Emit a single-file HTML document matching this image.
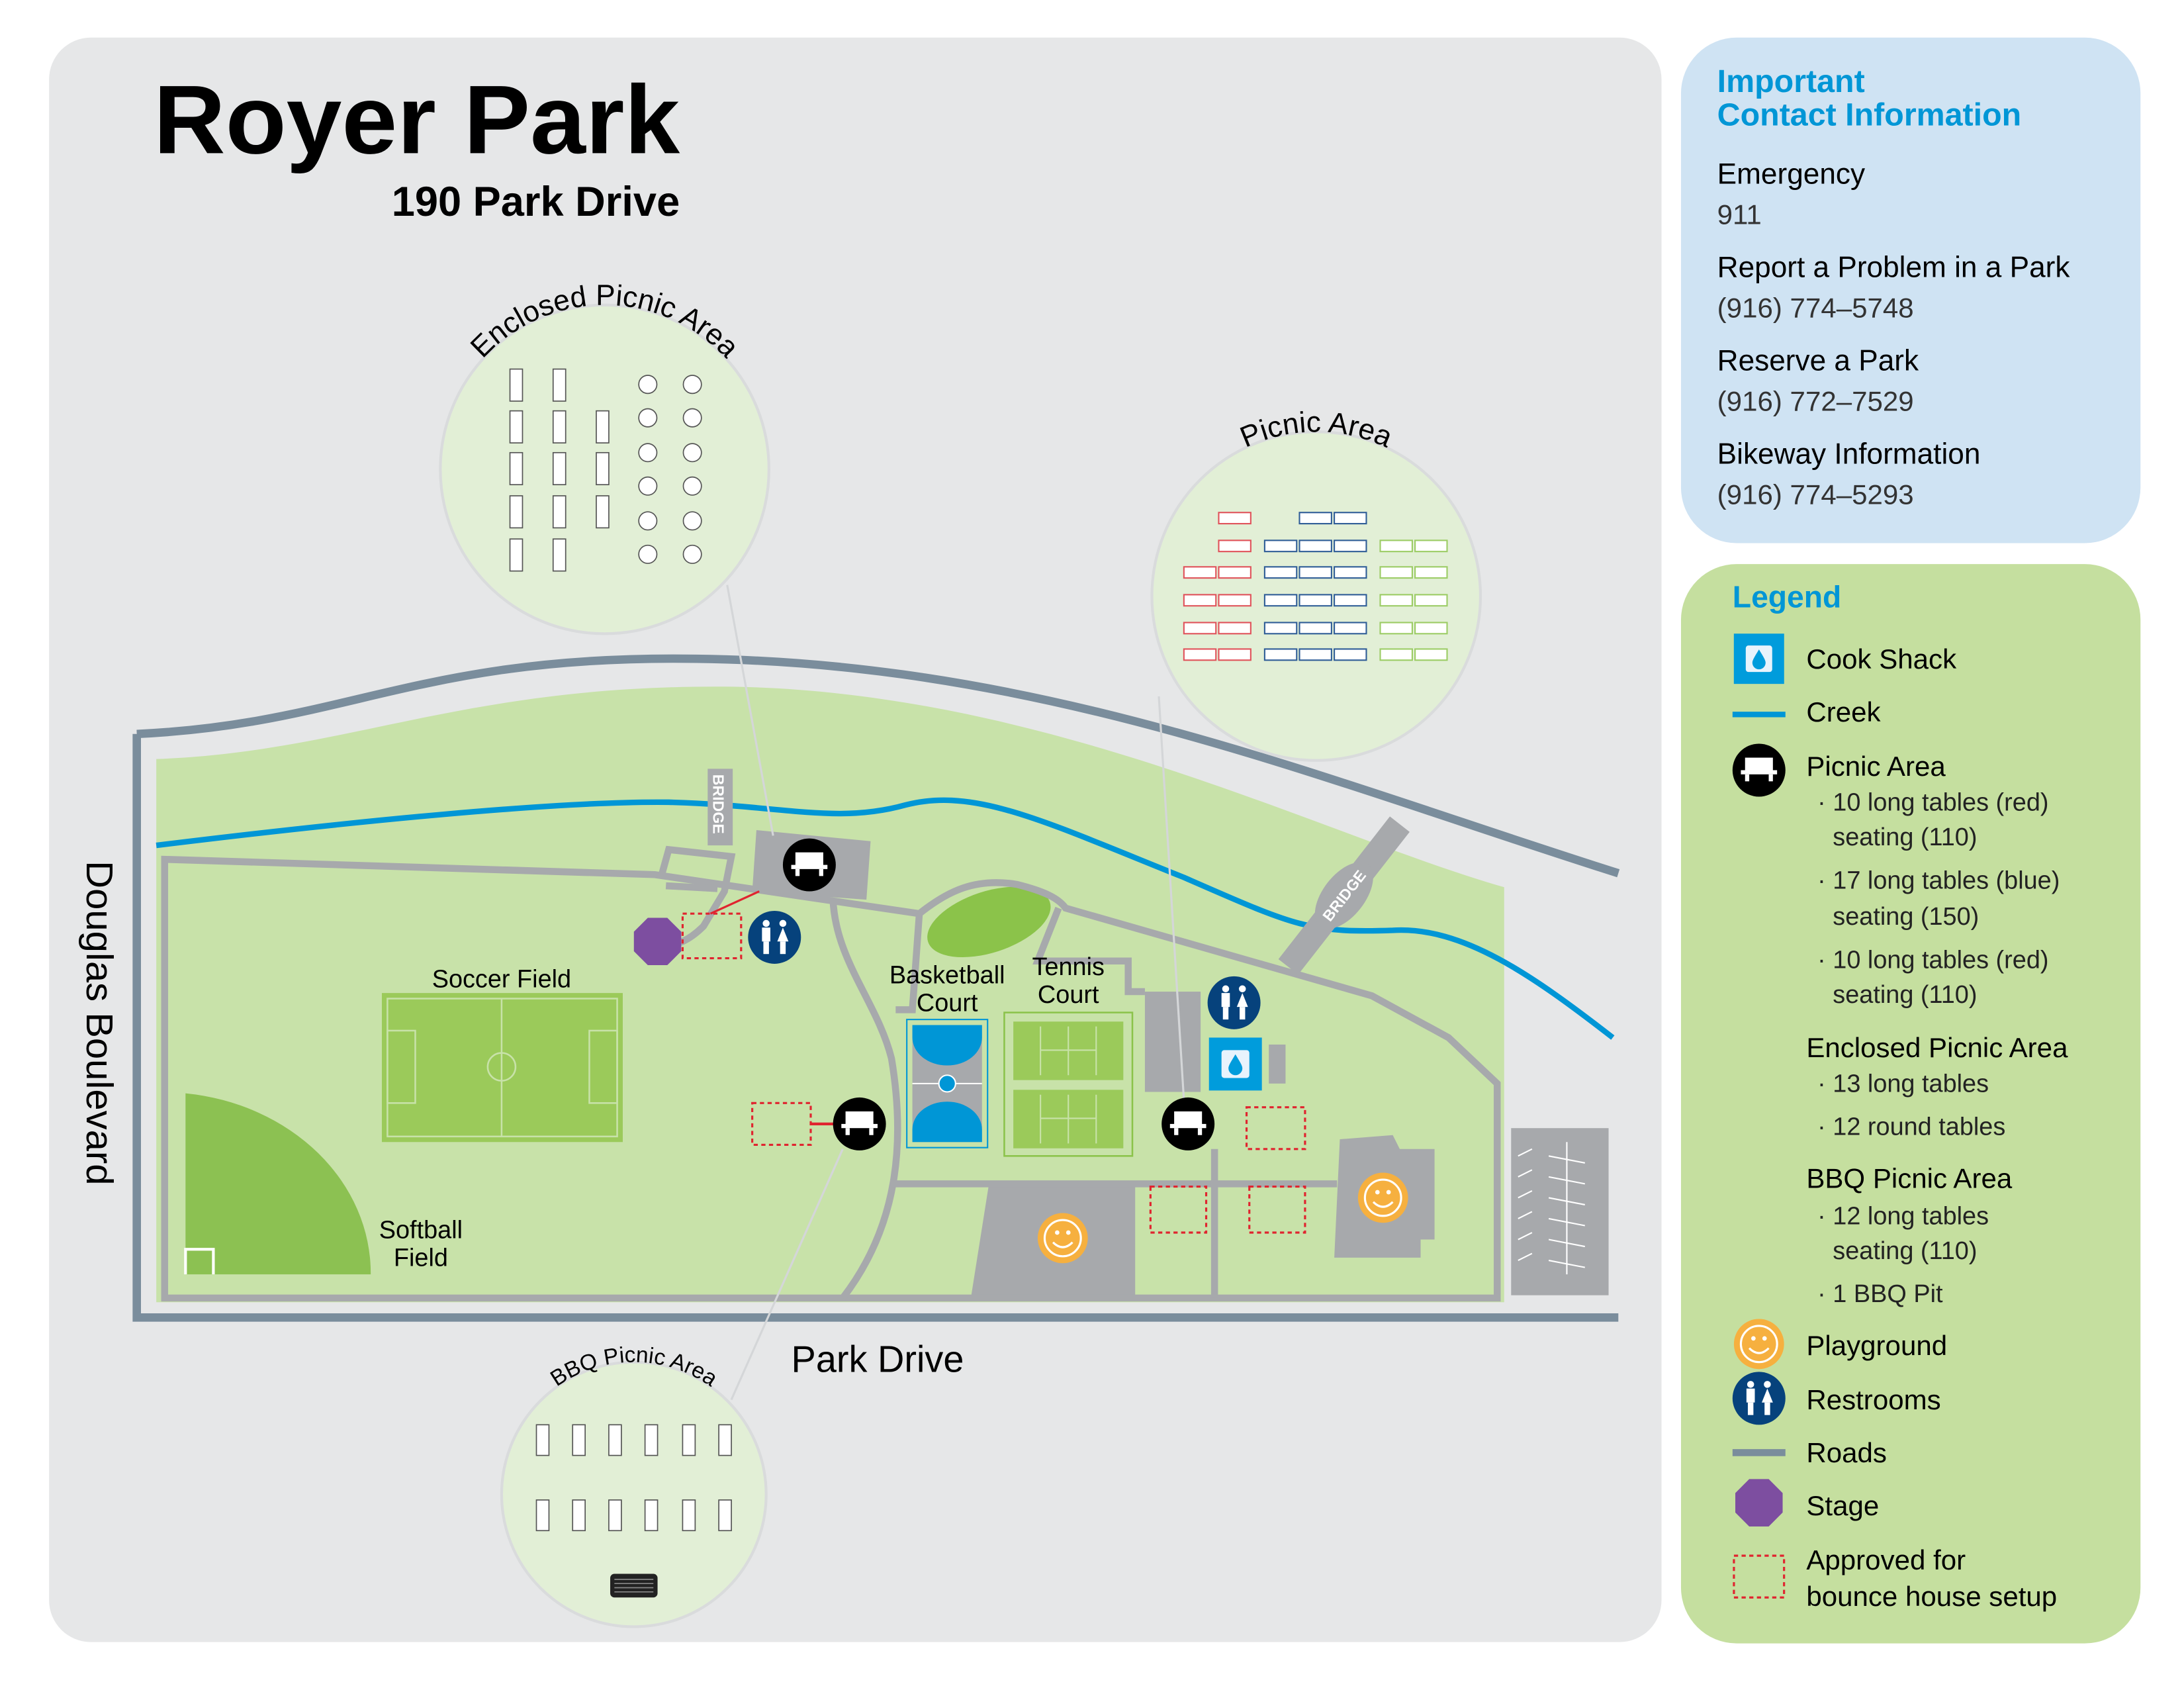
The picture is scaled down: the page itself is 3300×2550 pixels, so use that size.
<!DOCTYPE html>
<html><head><meta charset="utf-8"><style>
html,body{margin:0;padding:0;background:#fff}
svg{display:block}
text{font-family:"Liberation Sans",sans-serif}
</style></head><body>
<svg width="3300" height="2550" viewBox="0 0 1568 1212" xmlns="http://www.w3.org/2000/svg">
<defs>
<g id="pic"><circle r="19" fill="#000"/><rect x="-10" y="-9" width="20" height="10" fill="#fff"/><rect x="-13" y="0" width="26" height="3" fill="#fff"/><rect x="-10" y="3" width="3" height="5" fill="#fff"/><rect x="7" y="3" width="3" height="5" fill="#fff"/></g>
<g id="rest"><circle r="19" fill="#06427c"/><circle cx="-6" cy="-10" r="2.5" fill="#fff"/><rect x="-9" y="-7" width="6" height="10" fill="#fff"/><rect x="-8" y="3" width="4" height="9" fill="#fff"/><circle cx="6" cy="-10" r="2.5" fill="#fff"/><polygon points="6,-7 10,3 2,3" fill="#fff"/><rect x="4" y="3" width="4" height="9" fill="#fff"/></g>
<g id="play"><circle r="18" fill="#f6b03f"/><circle r="13" fill="none" stroke="#fff" stroke-width="1.5"/><circle cx="-4" cy="-4" r="1.6" fill="#fff"/><circle cx="4" cy="-4" r="1.6" fill="#fff"/><path d="M-7,3 Q0,10 7,3" fill="none" stroke="#fff" stroke-width="1.5"/></g>
<g id="cook"><rect x="-19" y="-19" width="38" height="38" fill="#009cdc"/><rect x="-10" y="-10" width="20" height="20" rx="2" fill="#e8f3fc"/><path d="M0,-7 C3,-2 5,1 5,3 A5,5 0 0 1 -5,3 C-5,1 -3,-2 0,-7Z" fill="#009cdc"/></g>
<g id="stage"><polygon points="-7,-17 7,-17 17,-7 17,7 7,17 -7,17 -17,7 -17,-7" fill="#7d4ea0"/></g>
</defs>
<rect width="1568" height="1212" fill="#fff"/>
<rect x="35" y="27" width="1158" height="1152" rx="30" fill="#e6e7e8"/>
<!-- park green -->
<path d="M112,935 L112,545 C250,540 330,492 520,493 C750,495 950,600 1080,637 L1080,935 Z" fill="#c8e2a9"/>
<!-- outer roads -->
<path d="M98,527 C250,520 300,470 500,473 C750,476 950,560 1162,627" fill="none" stroke="#7a8d9c" stroke-width="6"/>
<path d="M98,527 L98,946 L1162,946" fill="none" stroke="#7a8d9c" stroke-width="6"/>
<!-- creek -->
<path d="M112,607 C250,590 400,575 480,576 C560,578 600,592 650,578 C700,565 750,590 850,630 C930,665 940,670 1000,668 C1050,665 1100,700 1158,745" fill="none" stroke="#0096d6" stroke-width="4"/>
<!-- soccer -->
<rect x="274" y="713" width="173" height="107" fill="#9bca5a"/>
<g fill="none" stroke="#c8e2a9" stroke-width="1.2"><rect x="278" y="717" width="165" height="99"/><line x1="360" y1="717" x2="360" y2="816"/><circle cx="360" cy="766" r="10"/><rect x="278" y="740" width="20" height="52"/><rect x="423" y="740" width="20" height="52"/></g>
<!-- softball -->
<path d="M133,915 L133,785 A150,130 0 0 1 266,915 Z" fill="#8cc152"/>
<path d="M133,915 L133,897 L153,897 L153,915" fill="none" stroke="#fff" stroke-width="2"/>
<!-- green oval -->
<ellipse cx="710" cy="662" rx="46" ry="22" transform="rotate(-18 710 662)" fill="#8bc34a"/>
<!-- grey lots -->
<polygon points="710,850 815,850 815,932 697,932" fill="#a7a9ac"/>
<polygon points="962,818 1000,815 1005,825 1030,825 1030,890 1020,890 1020,903 958,903" fill="#a7a9ac"/>
<rect x="1085" y="810" width="70" height="120" fill="#a7a9ac"/>
<g stroke="#fff" stroke-width="1">
<line x1="1090" y1="830" x2="1100" y2="825"/><line x1="1090" y1="845" x2="1100" y2="840"/><line x1="1090" y1="860" x2="1100" y2="855"/><line x1="1090" y1="875" x2="1100" y2="870"/><line x1="1090" y1="890" x2="1100" y2="885"/><line x1="1090" y1="905" x2="1100" y2="900"/>
<line x1="1125" y1="820" x2="1125" y2="915"/><line x1="1112" y1="830" x2="1138" y2="835"/><line x1="1112" y1="845" x2="1138" y2="850"/><line x1="1112" y1="860" x2="1138" y2="865"/><line x1="1112" y1="875" x2="1138" y2="880"/><line x1="1112" y1="890" x2="1138" y2="895"/><line x1="1112" y1="905" x2="1138" y2="910"/></g>
<!-- paths -->
<g fill="none" stroke="#a7a9ac" stroke-width="5">
<path d="M118,932 L118,617 L470,628 L660,656 C680,640 700,630 730,635 C750,640 760,645 765,652 L985,715 L1040,745 L1075,778 L1075,932 Z"/>
<path d="M598,646 C600,690 630,720 640,760 C650,820 645,880 605,932"/>
<path d="M640,850 L960,850"/>
<path d="M872,825 L872,932"/>
<path d="M643,725 L655,725 L660,656"/>
<path d="M760,652 L745,690 L810,690 L810,712 L822,712"/>
<path d="M475,628 L480,610 L525,615 L520,640 L505,665 C495,675 485,680 470,680"/>
<path d="M478,636 L515,638"/>
</g>
<!-- enclosed pad -->
<polygon points="543,596 625,604 622,646 540,640" fill="#a7a9ac"/>
<rect x="508" y="552" width="18" height="55" fill="#a7a9ac"/>
<text transform="translate(512,556) rotate(90)" font-size="11" fill="#fff" font-weight="bold">BRIDGE</text>
<g transform="translate(965,643) rotate(-52)"><rect x="-65" y="-9" width="130" height="18" fill="#a7a9ac"/><ellipse rx="28" ry="15" fill="#a7a9ac"/><text x="0" y="4" font-size="11" fill="#fff" text-anchor="middle" font-weight="bold">BRIDGE</text></g>
<!-- buildings -->
<rect x="822" y="712" width="40" height="72" fill="#a7a9ac"/>
<rect x="911" y="750" width="12" height="28" fill="#a7a9ac"/>
<g transform="translate(887,764)"><use href="#cook"/></g>
<!-- basketball -->
<rect x="651" y="732" width="58" height="92" fill="#c8e2a9" stroke="#0096d6" stroke-width="1"/>
<rect x="655" y="736" width="50" height="84" fill="#a7a9ac"/>
<path d="M655,736 L705,736 L705,745 A25,20 0 0 1 655,745Z" fill="#0096d6"/>
<path d="M655,820 L705,820 L705,811 A25,20 0 0 0 655,811Z" fill="#0096d6"/>
<line x1="655" y1="778" x2="705" y2="778" stroke="#fff"/><circle cx="680" cy="778" r="6" fill="#0096d6" stroke="#fff"/>
<!-- tennis -->
<rect x="721" y="727" width="92" height="103" fill="none" stroke="#8bc34a" stroke-width="1.2"/>
<g fill="#9bca5a" stroke="#c8e2a9" stroke-width="1"><rect x="727" y="733" width="80" height="43"/><rect x="727" y="782" width="80" height="43"/></g>
<g stroke="#c8e2a9" stroke-width="1"><line x1="747" y1="737" x2="747" y2="772"/><line x1="787" y1="737" x2="787" y2="772"/><line x1="767" y1="737" x2="767" y2="772"/><line x1="747" y1="754" x2="787" y2="754"/><line x1="747" y1="786" x2="747" y2="821"/><line x1="787" y1="786" x2="787" y2="821"/><line x1="767" y1="786" x2="767" y2="821"/><line x1="747" y1="803" x2="787" y2="803"/></g>
<!-- red dashed -->
<g fill="none" stroke="#e0242f" stroke-width="1.5" stroke-dasharray="3,2.5">
<rect x="490" y="656" width="42" height="32"/><rect x="540" y="792" width="42" height="30"/><rect x="895" y="795" width="42" height="30"/><rect x="826" y="852" width="40" height="33"/><rect x="897" y="852" width="40" height="33"/></g>
<line x1="510" y1="656" x2="545" y2="640" stroke="#e0242f" stroke-width="1.5"/>
<line x1="582" y1="807" x2="600" y2="807" stroke="#e0242f" stroke-width="2"/>
<!-- callout lines -->
<g stroke="#d4d6d8" stroke-width="1.5"><line x1="522" y1="420" x2="555" y2="600"/><line x1="832" y1="500" x2="850" y2="790"/><line x1="525" y1="1005" x2="605" y2="825"/></g>
<!-- icons -->
<use href="#pic" x="581" y="621"/><use href="#pic" x="617" y="807"/><use href="#pic" x="853" y="807"/>
<use href="#rest" x="556" y="673"/><use href="#rest" x="886" y="720"/>
<use href="#stage" x="472" y="676"/>
<use href="#play" x="763" y="889"/><use href="#play" x="993" y="860"/>
<!-- callout circles -->
<g fill="#e2efd6" stroke="#d9dbdc" stroke-width="2"><circle cx="434" cy="337" r="118"/><circle cx="945" cy="428" r="118"/><circle cx="455" cy="1073" r="95"/></g>
<path id="c1" d="M316,337 A118,118 0 0 1 552,337" fill="none"/>
<path id="c2" d="M827,428 A118,118 0 0 1 1063,428" fill="none"/>
<path id="c3" d="M360,1073 A95,95 0 0 1 550,1073" fill="none"/>
<text font-size="21"><textPath href="#c1" startOffset="50%" text-anchor="middle" dy="-8">Enclosed Picnic Area</textPath></text>
<text font-size="21"><textPath href="#c2" startOffset="50%" text-anchor="middle">Picnic Area</textPath></text>
<text font-size="16"><textPath href="#c3" startOffset="50%" text-anchor="middle">BBQ Picnic Area</textPath></text>
<!-- enclosed tables -->
<g fill="#fff" stroke="#555" stroke-width="0.8">
<rect x="366" y="265" width="9" height="23"/><rect x="366" y="295" width="9" height="23"/><rect x="366" y="325" width="9" height="23"/><rect x="366" y="356" width="9" height="23"/><rect x="366" y="387" width="9" height="23"/>
<rect x="397" y="265" width="9" height="23"/><rect x="397" y="295" width="9" height="23"/><rect x="397" y="325" width="9" height="23"/><rect x="397" y="356" width="9" height="23"/><rect x="397" y="387" width="9" height="23"/>
<rect x="428" y="295" width="9" height="23"/><rect x="428" y="325" width="9" height="23"/><rect x="428" y="356" width="9" height="23"/>
<circle cx="465" cy="276" r="6.5"/><circle cx="465" cy="300" r="6.5"/><circle cx="465" cy="325" r="6.5"/><circle cx="465" cy="349" r="6.5"/><circle cx="465" cy="374" r="6.5"/><circle cx="465" cy="398" r="6.5"/>
<circle cx="497" cy="276" r="6.5"/><circle cx="497" cy="300" r="6.5"/><circle cx="497" cy="325" r="6.5"/><circle cx="497" cy="349" r="6.5"/><circle cx="497" cy="374" r="6.5"/><circle cx="497" cy="398" r="6.5"/>
</g>
<!-- picnic tables -->
<g fill="#fff" stroke-width="1">
<g stroke="#e0525a"><rect x="875" y="368" width="23" height="8"/><rect x="875" y="388" width="23" height="8"/>
<rect x="850" y="407" width="23" height="8"/><rect x="875" y="407" width="23" height="8"/><rect x="850" y="427" width="23" height="8"/><rect x="875" y="427" width="23" height="8"/><rect x="850" y="447" width="23" height="8"/><rect x="875" y="447" width="23" height="8"/><rect x="850" y="466" width="23" height="8"/><rect x="875" y="466" width="23" height="8"/></g>
<g stroke="#2f5d97"><rect x="933" y="368" width="23" height="8"/><rect x="958" y="368" width="23" height="8"/>
<rect x="908" y="388" width="23" height="8"/><rect x="933" y="388" width="23" height="8"/><rect x="958" y="388" width="23" height="8"/>
<rect x="908" y="407" width="23" height="8"/><rect x="933" y="407" width="23" height="8"/><rect x="958" y="407" width="23" height="8"/>
<rect x="908" y="427" width="23" height="8"/><rect x="933" y="427" width="23" height="8"/><rect x="958" y="427" width="23" height="8"/>
<rect x="908" y="447" width="23" height="8"/><rect x="933" y="447" width="23" height="8"/><rect x="958" y="447" width="23" height="8"/>
<rect x="908" y="466" width="23" height="8"/><rect x="933" y="466" width="23" height="8"/><rect x="958" y="466" width="23" height="8"/></g>
<g stroke="#9ccc65"><rect x="991" y="388" width="23" height="8"/><rect x="1016" y="388" width="23" height="8"/><rect x="991" y="407" width="23" height="8"/><rect x="1016" y="407" width="23" height="8"/><rect x="991" y="427" width="23" height="8"/><rect x="1016" y="427" width="23" height="8"/><rect x="991" y="447" width="23" height="8"/><rect x="1016" y="447" width="23" height="8"/><rect x="991" y="466" width="23" height="8"/><rect x="1016" y="466" width="23" height="8"/></g>
</g>
<!-- bbq tables -->
<g fill="#fff" stroke="#555" stroke-width="0.8">
<rect x="385" y="1023" width="9" height="22"/><rect x="411" y="1023" width="9" height="22"/><rect x="437" y="1023" width="9" height="22"/><rect x="463" y="1023" width="9" height="22"/><rect x="490" y="1023" width="9" height="22"/><rect x="516" y="1023" width="9" height="22"/>
<rect x="385" y="1077" width="9" height="22"/><rect x="411" y="1077" width="9" height="22"/><rect x="437" y="1077" width="9" height="22"/><rect x="463" y="1077" width="9" height="22"/><rect x="490" y="1077" width="9" height="22"/><rect x="516" y="1077" width="9" height="22"/></g>
<rect x="438" y="1130" width="34" height="17" rx="3" fill="#222"/>
<g stroke="#888" stroke-width="0.8"><line x1="441" y1="1134" x2="469" y2="1134"/><line x1="441" y1="1137" x2="469" y2="1137"/><line x1="441" y1="1140" x2="469" y2="1140"/><line x1="441" y1="1143" x2="469" y2="1143"/></g>
<!-- labels -->
<text x="110" y="110" font-size="70" font-weight="bold" textLength="378" lengthAdjust="spacingAndGlyphs">Royer Park</text>
<text x="281" y="155" font-size="30" font-weight="bold" textLength="207" lengthAdjust="spacingAndGlyphs">190 Park Drive</text>
<text transform="translate(62,618) rotate(90)" font-size="27" textLength="233" lengthAdjust="spacingAndGlyphs">Douglas Boulevard</text>
<text x="568" y="985" font-size="27" textLength="124" lengthAdjust="spacingAndGlyphs">Park Drive</text>
<text x="360" y="709" font-size="18" text-anchor="middle">Soccer Field</text>
<text x="302" y="889" font-size="18" text-anchor="middle">Softball</text><text x="302" y="909" font-size="18" text-anchor="middle">Field</text>
<text x="680" y="706" font-size="18" text-anchor="middle">Basketball</text><text x="680" y="726" font-size="18" text-anchor="middle">Court</text>
<text x="767" y="700" font-size="18" text-anchor="middle">Tennis</text><text x="767" y="720" font-size="18" text-anchor="middle">Court</text>
<!-- contact panel -->
<rect x="1207" y="27" width="330" height="363" rx="40" fill="#cfe3f3"/>
<g font-size="23" fill="#0096d6" font-weight="bold"><text x="1233" y="66">Important</text><text x="1233" y="90">Contact Information</text></g>
<g font-size="21"><text x="1233" y="132">Emergency</text><text x="1233" y="199">Report a Problem in a Park</text><text x="1233" y="266">Reserve a Park</text><text x="1233" y="333">Bikeway Information</text></g>
<g font-size="20" fill="#333"><text x="1233" y="161">911</text><text x="1233" y="228">(916) 774–5748</text><text x="1233" y="295">(916) 772–7529</text><text x="1233" y="362">(916) 774–5293</text></g>
<!-- legend -->
<rect x="1207" y="405" width="330" height="775" rx="40" fill="#c5df9f"/>
<text x="1244" y="436" font-size="22" fill="#0096d6" font-weight="bold">Legend</text>
<g transform="translate(1263,473) scale(0.95)"><use href="#cook"/></g>
<line x1="1244" y1="513" x2="1282" y2="513" stroke="#0096d6" stroke-width="4"/>
<use href="#pic" x="1263" y="553"/>
<use href="#play" x="1263" y="965"/>
<use href="#rest" x="1263" y="1004"/>
<line x1="1244" y1="1043" x2="1282" y2="1043" stroke="#7a8d9c" stroke-width="5"/>
<use href="#stage" x="1263" y="1079"/>
<rect x="1245" y="1117" width="36" height="30" fill="none" stroke="#e0242f" stroke-width="1.5" stroke-dasharray="3,2.5"/>
<g font-size="20"><text x="1297" y="480">Cook Shack</text><text x="1297" y="518">Creek</text><text x="1297" y="557">Picnic Area</text>
<text x="1297" y="759">Enclosed Picnic Area</text><text x="1297" y="853">BBQ Picnic Area</text>
<text x="1297" y="973">Playground</text><text x="1297" y="1012">Restrooms</text><text x="1297" y="1050">Roads</text><text x="1297" y="1088">Stage</text>
<text x="1297" y="1127">Approved for</text><text x="1297" y="1153">bounce house setup</text></g>
<g font-size="18" fill="#222"><text x="1305" y="582">· 10 long tables (red)</text><text x="1316" y="607">seating (110)</text>
<text x="1305" y="638">· 17 long tables (blue)</text><text x="1316" y="664">seating (150)</text>
<text x="1305" y="695">· 10 long tables (red)</text><text x="1316" y="720">seating (110)</text>
<text x="1305" y="784">· 13 long tables</text><text x="1305" y="815">· 12 round tables</text>
<text x="1305" y="879">· 12 long tables</text><text x="1316" y="904">seating (110)</text><text x="1305" y="935">· 1 BBQ Pit</text></g>
</svg>
</body></html>
